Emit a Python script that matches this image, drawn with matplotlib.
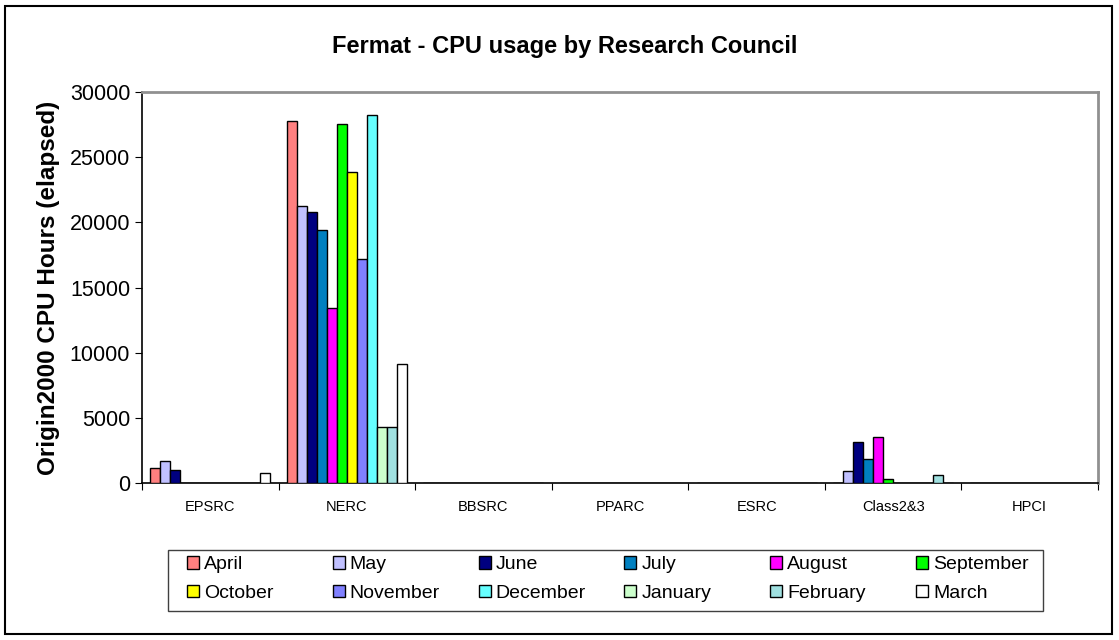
import matplotlib
matplotlib.use("Agg")
import matplotlib.pyplot as plt
import numpy as np
from matplotlib.patches import Rectangle

councils = ["EPSRC", "NERC", "BBSRC", "PPARC", "ESRC", "Class2&3", "HPCI"]
months = ["April", "May", "June", "July", "August", "September",
          "October", "November", "December", "January", "February", "March"]
colors = ["#FF8080", "#C0C0FF", "#000080", "#0080C0", "#FF00FF", "#00FF00",
          "#FFFF00", "#8080FF", "#66FFFF", "#CCFFCC", "#A0E0E0", "#FFFFFF"]

# hours per month, one list per council
epsrc = [1150, 1700, 1000, 0, 0, 0, 0, 0, 0, 0, 0, 770]
nerc = [27760, 21230, 20780, 19390, 13430, 27530, 23870, 17220, 28220, 4300, 4300, 9130]
bbsrc = [0] * 12
pparc = [0] * 12
esrc = [0] * 12
class23 = [0, 950, 3120, 1840, 3550, 330, 0, 0, 0, 0, 590, 0]
hpci = [0] * 12

data = np.array([epsrc, nerc, bbsrc, pparc, esrc, class23, hpci])

plt.rcParams["font.family"] = ["Liberation Sans", "DejaVu Sans"]

W, H = 1119, 640
fig = plt.figure(figsize=(W / 100, H / 100), dpi=100)
ax = fig.add_axes([142 / W, 1 - 483 / H, (1098 - 142) / W, (483 - 92) / H])

x = np.arange(len(councils))
w = 0.0733
bars = []
for i, m in enumerate(months):
    b = ax.bar(x + (i - 5.5) * w, data[:, i], width=w, color=colors[i],
               edgecolor="black", linewidth=1.0, label=m, zorder=3)
    bars.append(b)

ax.set_xlim(-0.5, len(councils) - 0.5)
ax.set_ylim(0, 30000)
ax.set_yticks(range(0, 30001, 5000))
ax.tick_params(axis="y", labelsize=15.5, length=5, direction="out")
ax.set_xticks(np.arange(-0.5, len(councils)), labels=[])
ax.set_xticks(x, labels=councils, minor=True)
ax.tick_params(axis="x", which="major", length=5, direction="out")
ax.tick_params(axis="x", which="minor", length=0, labelsize=10.5, pad=12)

for s in ["top", "right"]:
    ax.spines[s].set_color("#909090")
    ax.spines[s].set_linewidth(2)
for s in ["left", "bottom"]:
    ax.spines[s].set_linewidth(1.2)

ax.set_ylabel("Origin2000 CPU Hours (elapsed)", fontsize=17.5, fontweight="bold", labelpad=7)
fig.text(565 / W, 1 - 47 / H, "Fermat - CPU usage by Research Council",
         ha="center", va="center", fontsize=17, fontweight="bold")

# Excel-style legend: six evenly spaced columns, two rows, inside one box
for c in range(6):
    fig.legend([bars[c], bars[c + 6]], [months[c], months[c + 6]],
               loc="upper left", bbox_to_anchor=((187 + c * 145.8) / W, 1 - 556 / H),
               fontsize=14, frameon=False, handlelength=0.62, handleheight=0.62,
               handletextpad=0.25, borderpad=0, borderaxespad=0, labelspacing=0.6)
fig.patches.append(Rectangle((168 / W, 1 - 611 / H), (1043 - 168) / W, 61 / H,
                             transform=fig.transFigure, fill=False,
                             edgecolor="#404040", linewidth=1.0))

fig.patches.append(Rectangle((5 / W, 1 - 634 / H), 1107 / W, 628 / H, transform=fig.transFigure,
                             fill=False, edgecolor="black", linewidth=1.5))

fig.savefig("out.png", dpi=100)
